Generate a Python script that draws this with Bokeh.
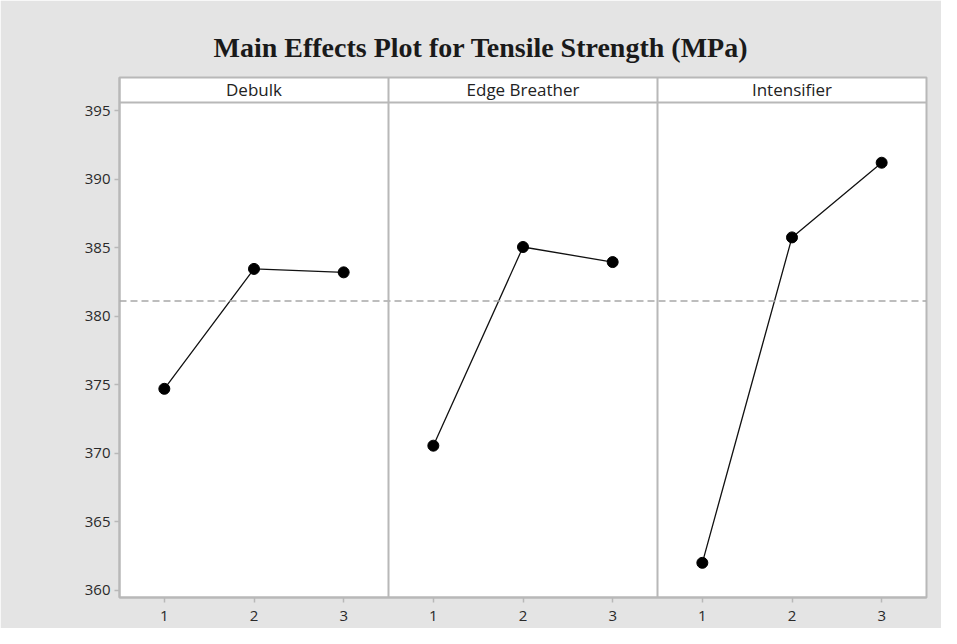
from bokeh.plotting import figure
from bokeh.models import Span, FixedTicker, ColumnDataSource, Range1d
from bokeh.core.properties import value
from bokeh.embed import file_html
from bokeh.resources import INLINE

# ---- data ----
factors = ["Debulk", "Edge Breather", "Intensifier"]
levels = [1, 2, 3]
debulk = [374.7, 383.45, 383.2]
edge_breather = [370.55, 385.05, 383.95]
intensifier = [362.0, 385.75, 391.2]
overall_mean = 381.1
y_ticks = [360, 365, 370, 375, 380, 385, 390, 395]
title_text = "Main Effects Plot for Tensile Strength (MPa)"

series = [debulk, edge_breather, intensifier]

GRAY_LINE = "#b8b8b8"
BG = "#e4e4e4"

y_bottom = 359.47
header_line = 395.6
y_top = 397.42

p = figure(width=941, height=628, output_backend="svg", toolbar_location=None,
           x_range=Range1d(0.5, 0.5 + 3 * len(factors)),
           y_range=Range1d(y_bottom, y_top),
           min_border_left=119, min_border_right=15, min_border_top=77, min_border_bottom=31,
           background_fill_color="white", border_fill_color=BG)

p.xgrid.visible = False
p.ygrid.visible = False
p.outline_line_color = GRAY_LINE
p.outline_line_width = 2

# title
p.title.text = title_text
p.title.align = "left"
p.title.offset = 94
p.title.text_font = "Liberation Serif"
p.title.text_font_style = "bold"
p.title.text_font_size = "28px"
p.title.text_color = "#1a1a1a"
p.title.standoff = 29

# mean line
p.add_layout(Span(location=overall_mean, dimension="width", line_color="#a8a8a8",
                  line_width=1.5, line_dash="7 4"))

# header strip separator
p.add_layout(Span(location=header_line, dimension="width", line_color=GRAY_LINE, line_width=2))

# panel dividers
for i in range(1, len(factors)):
    p.add_layout(Span(location=0.5 + 3 * i, dimension="height", line_color=GRAY_LINE, line_width=2))

tick_pos = []
tick_lab = {}
for i, (name, vals) in enumerate(zip(factors, series)):
    xs = [3 * i + lv for lv in levels]
    src = ColumnDataSource(dict(x=xs, y=vals))
    p.line("x", "y", source=src, line_color="#111111", line_width=1.3)
    p.scatter("x", "y", source=src, size=11, fill_color="black", line_color="black")
    for x, lv in zip(xs, levels):
        tick_pos.append(x)
        tick_lab[x] = str(lv)

hdr = ColumnDataSource(dict(x=[3 * i + 2 for i in range(len(factors))],
                            y=[(header_line + y_top) / 2] * len(factors),
                            t=factors))
p.text("x", "y", text="t", source=hdr, text_align="center", text_baseline="middle",
       text_font=value("Open Sans"), text_font_size="17px", text_color="#222222")

# axes
for ax in (p.xaxis[0], p.yaxis[0]):
    ax.axis_line_color = GRAY_LINE
    ax.axis_line_width = 2
    ax.major_tick_line_color = GRAY_LINE
    ax.major_tick_line_width = 1.5
    ax.major_tick_out = 5
    ax.major_tick_in = 0
    ax.minor_tick_line_color = None
    ax.major_label_text_font = "Open Sans"
    ax.major_label_text_font_size = "15px"
    ax.major_label_text_color = "#2a2a2a"

p.yaxis.ticker = FixedTicker(ticks=y_ticks)
p.yaxis.major_label_standoff = 4
p.xaxis.ticker = FixedTicker(ticks=tick_pos)
p.xaxis.major_label_overrides = tick_lab
p.xaxis.major_label_standoff = 8

open("out.html", "w").write(file_html(p, INLINE))
